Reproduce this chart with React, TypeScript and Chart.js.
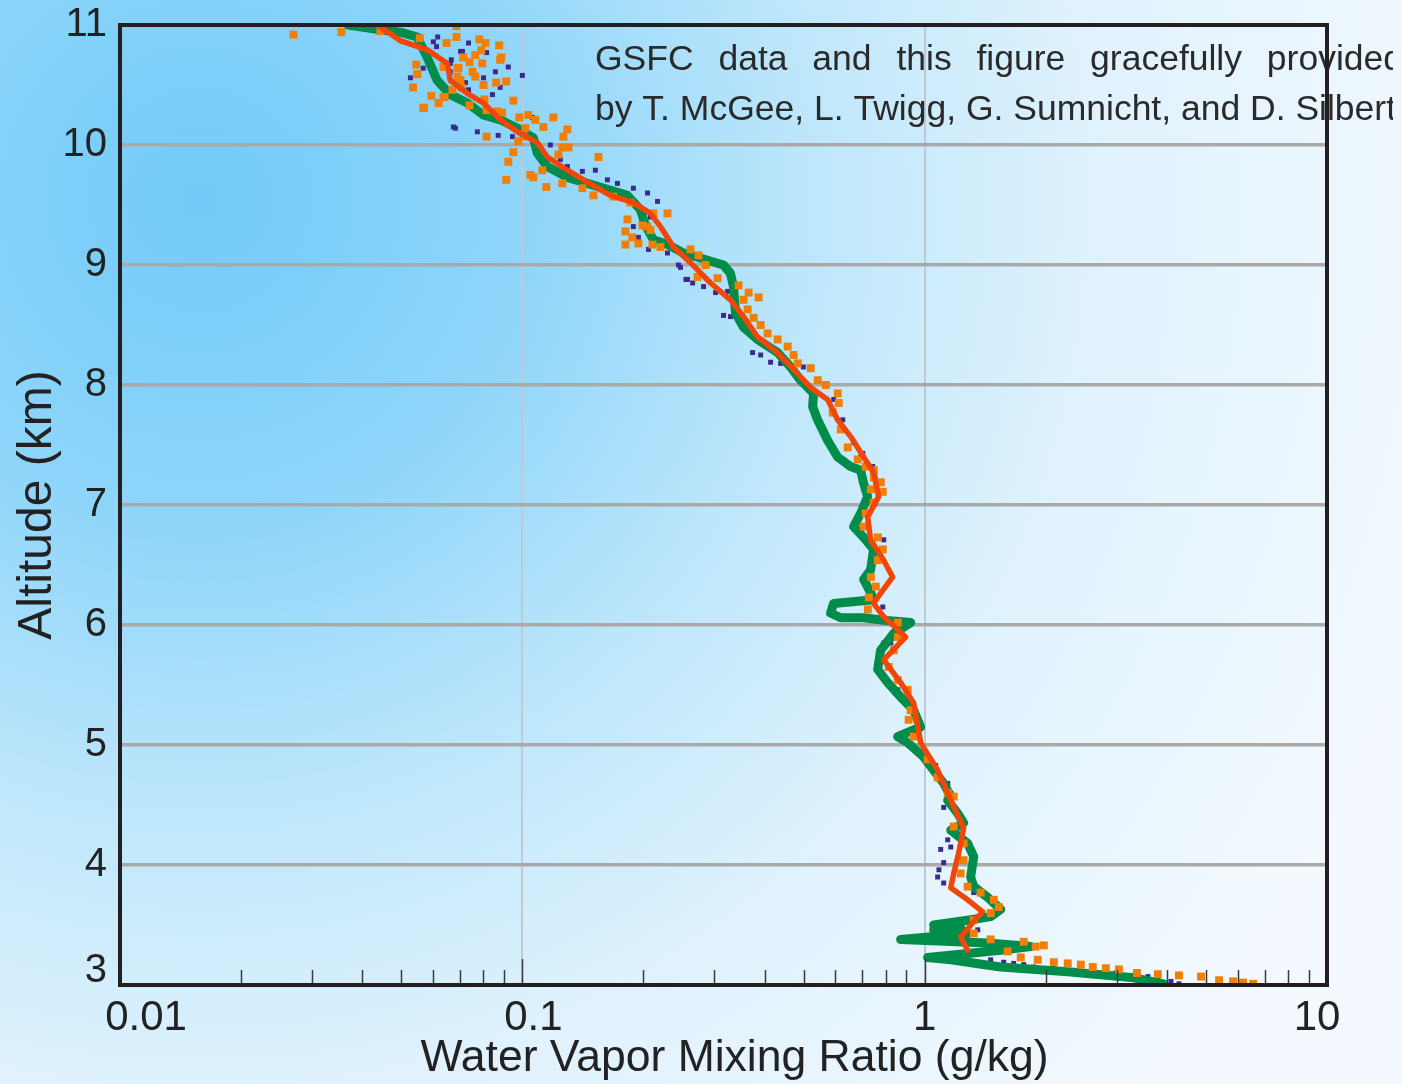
import { useEffect, useRef } from "react";
import { Chart, registerables } from "chart.js";

Chart.register(...registerables);

// ---------- axes ----------
const xTickValues = [
  0.01, 0.02, 0.03, 0.04, 0.05, 0.06, 0.07, 0.08, 0.09,
  0.1, 0.2, 0.3, 0.4, 0.5, 0.6, 0.7, 0.8, 0.9,
  1, 2, 3, 4, 5, 6, 7, 8, 9, 10,
];
const xLabelValues = [0.01, 0.1, 1, 10];
const xLabelTexts = ["0.01", "0.1", "1", "10"];
const xGridValues = [0.1, 1];
const yMin = 3;
const yMax = 11;

const xTitle = "Water Vapor Mixing Ratio (g/kg)";
const yTitle = "Altitude (km)";
const creditLine1 = ["GSFC", "data", "and", "this", "figure", "gracefully", "provided"];
const creditLine2 = "by T. McGee, L. Twigg, G. Sumnicht, and D. Silbert";

// ---------- data: green profile ----------
const greenMixing = [
  0.0369, 0.0444, 0.0497, 0.0548, 0.058, 0.0614, 0.0662, 0.073, 0.08, 0.0882,
  0.0972, 0.1065, 0.109, 0.1154, 0.1294, 0.1451, 0.1627, 0.1825, 0.1966, 0.2023,
  0.2118, 0.2295, 0.2515, 0.2885, 0.3162, 0.3291, 0.3348, 0.3388, 0.3546, 0.3842,
  0.4309, 0.4642, 0.4914, 0.5296, 0.5266, 0.5418, 0.5737, 0.6076, 0.6546, 0.6932,
  0.7053, 0.7216, 0.6932, 0.666, 0.7053, 0.7466, 0.7339, 0.7053, 0.7339, 0.7466,
  0.5937, 0.5836, 0.618, 0.7053, 0.7907, 0.9232, 0.8373, 0.7772, 0.7641, 0.809,
  0.8716, 0.9389, 0.9772, 0.8566, 0.9072, 0.9943, 1.053, 1.115, 1.161, 1.141,
  1.208, 1.25, 1.161, 1.279, 1.324, 1.301, 1.324, 1.435, 1.545, 1.46,
  1.279, 1.053, 1.229, 1.053, 1.279, 0.8716, 1.435, 1.835, 1.545, 1.017,
  1.161, 1.545, 2.268, 3.311, 3.931,
];
const greenAltitude = [
  11.0, 10.96, 10.94, 10.9, 10.73, 10.54, 10.42, 10.35, 10.25, 10.21,
  10.14, 10.06, 9.93, 9.82, 9.73, 9.68, 9.63, 9.58, 9.46, 9.33,
  9.21, 9.17, 9.1, 9.04, 9.0, 8.93, 8.82, 8.6, 8.48, 8.38,
  8.27, 8.15, 8.04, 7.93, 7.82, 7.71, 7.54, 7.4, 7.32, 7.29,
  7.18, 7.07, 6.93, 6.82, 6.73, 6.63, 6.46, 6.38, 6.27, 6.21,
  6.18, 6.1, 6.06, 6.06, 6.04, 6.02, 5.93, 5.79, 5.63, 5.52,
  5.4, 5.29, 5.15, 5.07, 5.02, 4.9, 4.79, 4.68, 4.57, 4.54,
  4.43, 4.35, 4.29, 4.18, 4.07, 3.9, 3.82, 3.73, 3.63, 3.57,
  3.54, 3.5, 3.48, 3.46, 3.43, 3.38, 3.35, 3.32, 3.29, 3.23,
  3.21, 3.15, 3.11, 3.06, 3.01,
];

// ---------- data: red profile ----------
const redMixing = [
  0.0436, 0.0497, 0.0583, 0.0651, 0.0662, 0.073, 0.08, 0.0882, 0.0972, 0.109,
  0.1154, 0.1294, 0.1451, 0.1655, 0.1888, 0.2082, 0.2204, 0.2375, 0.2618, 0.2936,
  0.3291, 0.3546, 0.3842, 0.4309, 0.4722, 0.5206, 0.5737, 0.6076, 0.6546, 0.7053,
  0.7466, 0.7686, 0.7216, 0.7339, 0.7907, 0.8325, 0.7641, 0.7466, 0.7907, 0.8967,
  0.7907, 0.8716, 0.9389, 0.9772, 1.077, 1.161, 1.25, 1.215, 1.181, 1.161,
  1.279, 1.394, 1.324, 1.229, 1.279,
];
const redAltitude = [
  11.0, 10.87, 10.79, 10.68, 10.54, 10.43, 10.35, 10.21, 10.11, 10.02,
  9.9, 9.79, 9.69, 9.58, 9.52, 9.43, 9.32, 9.15, 9.02, 8.85,
  8.71, 8.57, 8.4, 8.27, 8.13, 7.98, 7.88, 7.71, 7.57, 7.4,
  7.27, 7.07, 6.9, 6.71, 6.54, 6.4, 6.23, 6.18, 6.07, 5.9,
  5.71, 5.52, 5.35, 5.02, 4.79, 4.54, 4.31, 4.1, 3.93, 3.81,
  3.71, 3.61, 3.53, 3.4, 3.29,
];

// ---------- data: orange points ----------
const orangeMixing = [
  0.027, 0.0355, 0.0444, 0.0545, 0.0548, 0.0535, 0.0556, 0.0567, 0.0594, 0.0619,
  0.0641, 0.0648, 0.0686, 0.0686, 0.0713, 0.069, 0.0702, 0.0782, 0.081, 0.0876,
  0.0791, 0.0764, 0.0739, 0.0886, 0.0881, 0.0795, 0.0637, 0.0694, 0.0752, 0.0764,
  0.069, 0.0912, 0.0861, 0.0801, 0.0706, 0.067, 0.0637, 0.0805, 0.095, 0.057,
  0.0739, 0.0815, 0.0866, 0.0891, 0.0983, 0.1035, 0.1194, 0.1128, 0.1077, 0.1017,
  0.1006, 0.0977, 0.0815, 0.1294, 0.1265, 0.1302, 0.1258, 0.1229, 0.1546, 0.095,
  0.0923, 0.1047, 0.1121, 0.1065, 0.0912, 0.1147, 0.1258, 0.141, 0.1502, 0.1684,
  0.1856, 0.1825, 0.1804, 0.1804, 0.1877, 0.1943, 0.2047, 0.2106, 0.2118, 0.2295,
  0.1988, 0.2082, 0.2205, 0.2618, 0.2741, 0.2853, 0.2725, 0.3057, 0.3447, 0.3651,
  0.3866, 0.3548, 0.3631, 0.3757, 0.3912, 0.4071, 0.4311, 0.4565, 0.4725, 0.4836,
  0.5208, 0.5423, 0.568, 0.6081, 0.6116, 0.5908, 0.6187, 0.644, 0.6818, 0.7136,
  0.7472, 0.7779, 0.735, 0.7472, 0.7868, 0.7472, 0.7136, 0.7057, 0.7647, 0.7868,
  0.7647, 0.735, 0.756, 0.7266, 0.7224, 0.8574, 0.8574, 0.8382, 0.8143, 0.8574,
  0.9073, 0.9231, 0.9125, 0.9391, 1.017, 1.077, 1.141, 1.181, 1.181, 1.25,
  1.25, 1.229, 1.279, 1.378, 1.485, 1.528, 1.459, 1.324, 1.324, 1.459,
  1.763, 1.888, 1.978, 1.608, 1.733, 1.91, 2.094, 2.268, 2.444, 2.617,
  2.821, 3.039, 3.369, 3.798, 4.286, 4.862, 5.393, 5.84, 6.186, 6.551,
];
const orangeAltitude = [
  10.92, 10.94, 10.95, 10.67, 10.59, 10.48, 10.89, 10.31, 10.41, 10.35,
  10.4, 10.85, 10.99, 10.9, 10.73, 10.64, 10.54, 10.88, 10.85, 10.83,
  10.79, 10.75, 10.69, 10.73, 10.71, 10.68, 10.65, 10.64, 10.61, 10.57,
  10.57, 10.53, 10.52, 10.5, 10.48, 10.46, 10.4, 10.38, 10.37, 10.31,
  10.33, 10.29, 10.28, 10.27, 10.23, 10.25, 10.23, 10.15, 10.21, 10.14,
  10.07, 10.03, 10.07, 10.13, 10.07, 9.98, 9.98, 9.92, 9.9, 9.94,
  9.86, 9.75, 9.79, 9.73, 9.71, 9.65, 9.68, 9.64, 9.58, 9.57,
  9.52, 9.38, 9.28, 9.17, 9.23, 9.18, 9.32, 9.17, 9.43, 9.43,
  9.33, 9.29, 9.15, 9.13, 9.08, 9.0, 8.9, 8.89, 8.83, 8.77,
  8.73, 8.71, 8.63, 8.56, 8.5, 8.43, 8.38, 8.32, 8.25, 8.18,
  8.14, 8.04, 8.0, 7.93, 7.85, 7.77, 7.63, 7.48, 7.38, 7.32,
  7.29, 7.19, 7.13, 7.23, 7.11, 7.02, 6.93, 6.82, 6.73, 6.63,
  6.54, 6.4, 6.32, 6.23, 6.13, 6.02, 5.9, 5.79, 5.65, 5.54,
  5.46, 5.29, 5.21, 5.07, 4.88, 4.73, 4.6, 4.57, 4.32, 4.18,
  4.04, 3.93, 3.82, 3.77, 3.71, 3.65, 3.6, 3.54, 3.43, 3.38,
  3.36, 3.32, 3.33, 3.28, 3.23, 3.21, 3.19, 3.18, 3.17, 3.15,
  3.14, 3.13, 3.1, 3.09, 3.08, 3.07, 3.04, 3.03, 3.02, 3.01,
];

// ---------- data: navy points ----------
const navyMixing = [
  0.0616, 0.0601, 0.0612, 0.0644, 0.0666, 0.0662, 0.0702, 0.0567, 0.0527, 0.0682,
  0.0722, 0.0735, 0.071, 0.0815, 0.0662, 0.0857, 0.0923, 0.1, 0.0801, 0.0881,
  0.0735, 0.0843, 0.0674, 0.0773, 0.0871, 0.0945, 0.1059, 0.1174, 0.1243, 0.1294,
  0.141, 0.1519, 0.1627, 0.1723, 0.1888, 0.2047, 0.2168, 0.2082, 0.1888, 0.1943,
  0.2059, 0.2295, 0.2472, 0.2573, 0.2821, 0.3022, 0.2444, 0.255, 0.265, 0.3237,
  0.3163, 0.3291, 0.3735, 0.3912, 0.4141, 0.4385, 0.4995, 0.5942, 0.6257, 0.6664,
  0.7016, 0.743, 0.6934, 0.7779, 0.7913, 0.7868, 0.7779, 0.7913, 0.8236, 0.8574,
  0.9391, 1.065, 1.141, 1.161, 1.141, 1.115, 1.141, 1.161, 1.115, 1.077,
  1.115, 1.324, 1.355, 1.546, 1.443, 1.355, 1.459, 1.572, 1.664, 1.763,
  1.866, 2.082, 2.376, 2.632, 2.987, 3.311, 3.589, 3.798, 4.094, 4.286,
  1.096, 1.085,
];
const navyAltitude = [
  10.9, 10.86, 10.82, 10.85, 10.71, 10.61, 10.78, 10.64, 10.56, 10.14,
  10.52, 10.85, 10.78, 10.77, 10.68, 10.61, 10.65, 10.58, 10.56, 10.48,
  10.46, 10.42, 10.15, 10.11, 10.08, 10.07, 10.23, 10.0, 9.88, 9.82,
  9.78, 9.79, 9.71, 9.68, 9.64, 9.6, 9.53, 9.4, 9.32, 9.23,
  9.13, 9.1, 8.98, 8.88, 8.82, 8.77, 9.0, 8.88, 8.85, 8.78,
  8.58, 8.57, 8.27, 8.25, 8.19, 8.18, 8.15, 7.88, 7.71, 7.52,
  7.43, 7.32, 7.4, 7.18, 6.71, 6.15, 5.79, 5.85, 5.85, 5.46,
  5.13, 4.83, 4.68, 4.6, 4.65, 4.48, 4.21, 4.15, 4.02, 3.9,
  3.85, 3.77, 3.46, 3.32, 3.29, 3.27, 3.21, 3.19, 3.18, 3.17,
  3.15, 3.14, 3.12, 3.11, 3.1, 3.08, 3.07, 3.05, 3.03, 3.01,
  4.13, 3.96,
];

const zip = (xs: number[], ys: number[]) => xs.map((x, i) => ({ x, y: ys[i] }));

const FONT = '"Liberation Sans", Arial, Helvetica, sans-serif';
const TEXT = "#222222";
// horizontal nudges of the x labels, as placed in the original figure
const xLabelNudge = [26, 11, 0, -10];

const decorPlugin = {
  id: "decor",
  afterDatasetsDraw(chart: any) {
    const { ctx, chartArea: a, scales } = chart;
    const xs = scales.x;
    const ys = scales.y;
    ctx.save();
    // inner minor tick marks along the bottom axis
    ctx.strokeStyle = "#3a3a3a";
    ctx.lineWidth = 1.5;
    for (const v of xTickValues) {
      if (v === 0.01 || v === 10) continue;
      const px = Math.round(xs.getPixelForValue(v)) + 0.5;
      const len = xGridValues.includes(v) ? 26 : 15;
      ctx.beginPath();
      ctx.moveTo(px, a.bottom);
      ctx.lineTo(px, a.bottom - len);
      ctx.stroke();
    }
    ctx.fillStyle = TEXT;
    // lowest y label, lifted above the x labels
    ctx.font = `40px ${FONT}`;
    ctx.textAlign = "right";
    ctx.textBaseline = "middle";
    ctx.fillText(String(yMin), a.left - 13, ys.getPixelForValue(yMin) - 14);
    // x labels
    ctx.font = `42px ${FONT}`;
    ctx.textAlign = "center";
    xLabelValues.forEach((v, i) => {
      ctx.fillText(xLabelTexts[i], xs.getPixelForValue(v) + xLabelNudge[i], a.bottom + 33);
    });
    // x title
    ctx.font = `44.5px ${FONT}`;
    ctx.fillText(xTitle, (a.left + a.right) / 2 + 11, a.bottom + 74);
    ctx.restore();

    // credit text (justified first line, clipped at the right)
    ctx.save();
    ctx.beginPath();
    ctx.rect(0, 0, 1393, 1084);
    ctx.clip();
    ctx.font = `35.5px ${FONT}`;
    ctx.fillStyle = "#2a2a2a";
    ctx.textAlign = "left";
    ctx.textBaseline = "alphabetic";
    const left = 595;
    const width = 808;
    const widths = creditLine1.map((w) => ctx.measureText(w).width);
    const total = widths.reduce((s, w) => s + w, 0);
    const gap = (width - total) / (creditLine1.length - 1);
    let cx = left;
    creditLine1.forEach((w, i) => {
      ctx.fillText(w, cx, 70);
      cx += widths[i] + gap;
    });
    ctx.fillText(creditLine2, left, 120);
    ctx.restore();

    // frame
    ctx.save();
    ctx.strokeStyle = "#231f20";
    ctx.lineWidth = 4;
    ctx.strokeRect(a.left, a.top, a.right - a.left, a.bottom - a.top);
    ctx.restore();
  },
};

export default function App() {
  const canvasRef = useRef<HTMLCanvasElement | null>(null);

  useEffect(() => {
    const canvas = canvasRef.current;
    if (!canvas) return;
    const chart = new Chart(canvas, {
      type: "scatter",
      data: {
        datasets: [
          {
            label: "red",
            data: zip(redMixing, redAltitude),
            showLine: true,
            borderColor: "#f0460a",
            borderWidth: 5.5,
            pointRadius: 0,
            tension: 0,
            borderJoinStyle: "round",
            borderCapStyle: "round",
          },
          {
            label: "orange",
            data: zip(orangeMixing, orangeAltitude),
            pointStyle: "rect",
            pointRadius: 5.6,
            backgroundColor: "#f27f05",
            borderWidth: 0,
          },
          {
            label: "green",
            data: zip(greenMixing, greenAltitude),
            showLine: true,
            borderColor: "#008c4a",
            borderWidth: 9,
            pointRadius: 0,
            tension: 0,
            borderJoinStyle: "round",
            borderCapStyle: "round",
          },
          {
            label: "navy",
            data: zip(navyMixing, navyAltitude),
            pointStyle: "rect",
            pointRadius: 3.5,
            backgroundColor: "#3b2a8c",
            borderWidth: 0,
          },
        ],
      },
      options: {
        responsive: false,
        animation: false,
        events: [],
        layout: { padding: { top: 25, right: 75, left: 0, bottom: 0 } },
        plugins: {
          legend: { display: false },
          tooltip: { enabled: false },
        },
        scales: {
          x: {
            type: "logarithmic",
            min: 0.01,
            max: 10,
            afterBuildTicks: (scale: any) => {
              scale.ticks = xTickValues.map((v) => ({ value: v }));
            },
            afterFit: (scale: any) => {
              scale.height = 99;
              scale.paddingLeft = 0;
              scale.paddingRight = 0;
            },
            border: { display: false },
            grid: {
              drawTicks: false,
              lineWidth: 2,
              color: (c: any) =>
                xGridValues.includes(c.tick?.value) ? "#bfc9d1" : "rgba(0,0,0,0)",
            },
            ticks: { display: false },
            title: { display: false },
          },
          y: {
            type: "linear",
            min: yMin,
            max: yMax,
            afterFit: (scale: any) => {
              scale.width = 120;
              scale.paddingTop = 0;
              scale.paddingBottom = 0;
            },
            border: { display: false },
            grid: {
              drawTicks: false,
              lineWidth: 3.5,
              color: (c: any) =>
                c.tick?.value === yMin || c.tick?.value === yMax ? "rgba(0,0,0,0)" : "#a9a9a9",
            },
            ticks: {
              stepSize: 1,
              autoSkip: false,
              padding: 13,
              color: TEXT,
              font: { family: FONT, size: 40 },
              callback: (v: any) => (Number(v) === yMin ? "" : String(v)),
            },
            title: {
              display: true,
              text: yTitle,
              color: TEXT,
              font: { family: FONT, size: 48 },
              padding: { top: 9, bottom: 0 },
            },
          },
        },
      },
      plugins: [decorPlugin],
    } as any);
    return () => chart.destroy();
  }, []);

  return (
    <div
      style={{
        position: "absolute",
        left: 0,
        top: 0,
        width: 1402,
        height: 1084,
        background:
          "radial-gradient(circle at 200px 200px, #72cbf8 0px, #8ed5fa 320px, #bfe7fb 620px, #e0f2fd 900px, #f3f9fe 1300px)",
      }}
    >
      <canvas ref={canvasRef} width={1402} height={1084} style={{ display: "block" }} />
    </div>
  );
}
